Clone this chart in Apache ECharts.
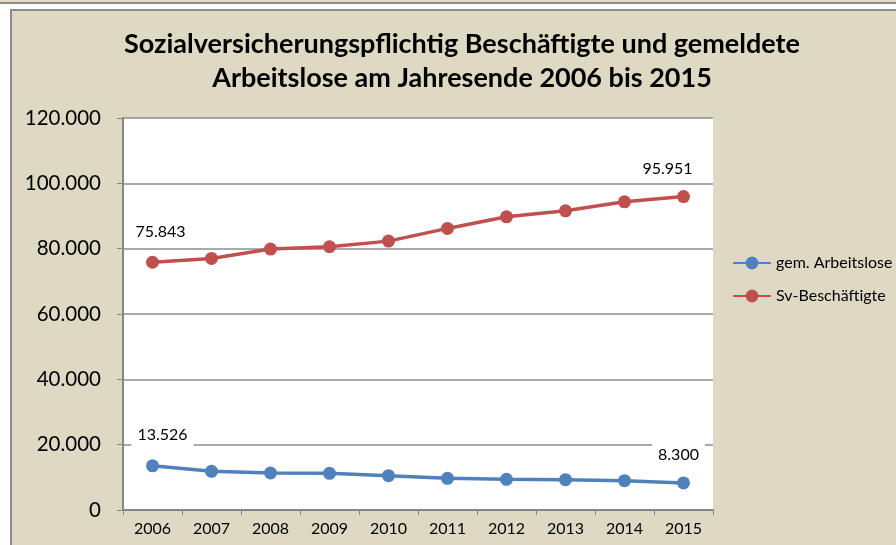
<!DOCTYPE html>
<html>
<head>
<meta charset="utf-8">
<script src="https://cdn.jsdelivr.net/npm/echarts@6/dist/echarts.min.js"></script>
<style>
  html, body { margin: 0; padding: 0; background: #fff; overflow: hidden; }
  .strip { position: absolute; left: 0; top: 0; width: 896px; height: 2px; background: #ddd9c3; border-bottom: 2px solid #8c8c8c; }
  .frame { position: absolute; left: 10px; top: 9px; width: 900px; height: 560px; background: #ddd9c3; border: 2px solid #8c8c8c; }
  #chart { position: absolute; left: 0; top: 0; width: 896px; height: 545px; }
</style>
</head>
<body>
<div class="strip"></div>
<div class="frame"></div>
<div id="chart"></div>
<script>
const years = ['2006', '2007', '2008', '2009', '2010', '2011', '2012', '2013', '2014', '2015']
const arbeitslose = [13526, 11840, 11320, 11220, 10500, 9690, 9390, 9280, 8970, 8300]
const beschaeftigte = [75843, 77020, 79870, 80580, 82310, 86200, 89750, 91590, 94340, 95951]
const seriesNames = ['gem. Arbeitslose', 'Sv-Beschäftigte']

const font = 'Lato, "Open Sans", sans-serif'

function fmt(v) {
  return String(v).replace(/\B(?=(\d{3})+(?!\d))/g, '.')
}

// only the first and last point get a label
function withEndLabels(values, firstOffset, lastOffset) {
  return values.map((v, i) => {
    if (i === 0 || i === values.length - 1) {
      return {
        value: v,
        label: {
          show: true,
          position: 'top',
          offset: i === 0 ? firstOffset : lastOffset,
          formatter: p => fmt(p.value),
          backgroundColor: '#fff',
          padding: [3, 6],
          color: '#000',
          fontSize: 16,
          fontFamily: font
        }
      }
    }
    return v
  })
}

const chart = echarts.init(document.getElementById('chart'))

chart.setOption({
  animation: false,
  title: {
    text: 'Sozialversicherungspflichtig Beschäftigte und gemeldete\nArbeitslose am Jahresende 2006 bis 2015',
    left: 457,
    top: 22,
    textAlign: 'center',
    textStyle: {
      fontFamily: font,
      fontSize: 27,
      fontWeight: 'bold',
      color: '#000',
      lineHeight: 34
    }
  },
  legend: {
    orient: 'vertical',
    left: 727,
    top: 250,
    itemWidth: 38,
    itemHeight: 16,
    itemGap: 17,
    textStyle: { fontFamily: font, fontSize: 16, color: '#000' },
    data: seriesNames
  },
  grid: {
    left: 123,
    top: 118,
    right: 183,
    bottom: 35,
    show: true,
    backgroundColor: '#fff',
    borderWidth: 0
  },
  xAxis: {
    type: 'category',
    data: years,
    boundaryGap: true,
    axisLine: { lineStyle: { color: '#868686', width: 2 } },
    axisTick: { show: true, length: 5, lineStyle: { color: '#868686' } },
    axisLabel: { fontFamily: font, fontSize: 16, color: '#000', margin: 11 }
  },
  yAxis: {
    type: 'value',
    min: 0,
    max: 120000,
    interval: 20000,
    axisLine: { show: true, lineStyle: { color: '#868686', width: 2 } },
    axisTick: { show: true, length: 6, lineStyle: { color: '#868686' } },
    axisLabel: { fontFamily: font, fontSize: 20.5, color: '#000', margin: 22, formatter: v => fmt(v) },
    splitLine: { lineStyle: { color: '#8c8c8c', width: 1.5 } }
  },
  series: [
    {
      name: seriesNames[0],
      type: 'line',
      data: withEndLabels(arbeitslose, [10, -8], [-5, -6]),
      symbol: 'circle',
      symbolSize: 13,
      color: '#4f81bd',
      lineStyle: { width: 3.5 },
      z: 3
    },
    {
      name: seriesNames[1],
      type: 'line',
      data: withEndLabels(beschaeftigte, [8, -8], [-16, -5]),
      symbol: 'circle',
      symbolSize: 13,
      color: '#c0504d',
      lineStyle: { width: 3.5 },
      z: 3
    }
  ]
})
</script>
</body>
</html>
